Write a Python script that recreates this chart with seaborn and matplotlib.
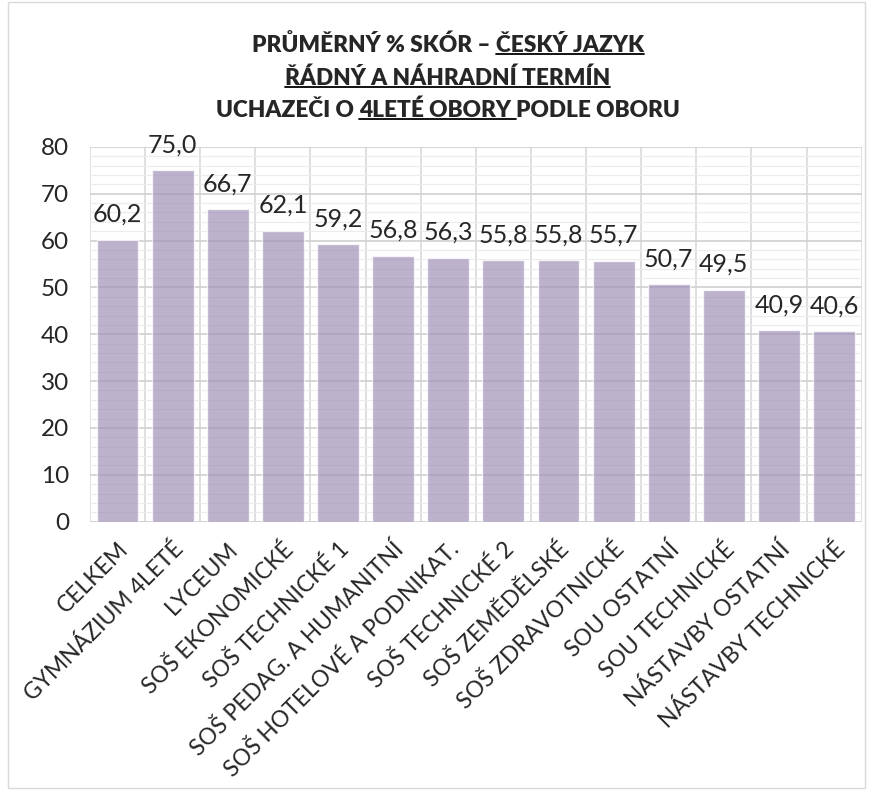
import matplotlib
matplotlib.use("Agg")
import matplotlib.pyplot as plt
from matplotlib.lines import Line2D
from matplotlib.patches import Rectangle
from matplotlib.ticker import MultipleLocator
import seaborn as sns
import pandas as pd

obory = ["CELKEM", "GYMNÁZIUM 4LETÉ", "LYCEUM", "SOŠ EKONOMICKÉ", "SOŠ TECHNICKÉ 1",
         "SOŠ PEDAG. A HUMANITNÍ", "SOŠ HOTELOVÉ A PODNIKAT.", "SOŠ TECHNICKÉ 2",
         "SOŠ ZEMĚDĚLSKÉ", "SOŠ ZDRAVOTNICKÉ", "SOU OSTATNÍ", "SOU TECHNICKÉ",
         "NÁSTAVBY OSTATNÍ", "NÁSTAVBY TECHNICKÉ"]
skore = [60.2, 75.0, 66.7, 62.1, 59.2, 56.8, 56.3, 55.8, 55.8, 55.7, 50.7, 49.5, 40.9, 40.6]

# title pieces: (text, underlined)
title_lines = [
    [("PRŮMĚRNÝ % SKÓR – ", False), ("ČESKÝ JAZYK", True)],
    [("ŘÁDNÝ A NÁHRADNÍ TERMÍN", True)],
    [("UCHAZEČI O ", False), ("4LETÉ OBORY ", True), ("PODLE OBORU", False)],
]

df = pd.DataFrame({"obor": obory, "skore": skore})

sns.set_style("white")
plt.rcParams["font.family"] = ["Lato", "DejaVu Sans"]

fig = plt.figure(figsize=(8.73, 7.94), dpi=100)
ax = fig.add_axes([0.103, 0.343, 0.884, 0.472])

sns.barplot(data=df, x="obor", y="skore", color="#a08ebf", alpha=0.72,
            width=0.76, ax=ax, zorder=3)

ax.set_ylim(0, 80)
ax.set_xlim(-0.5, len(obory) - 0.5)
ax.yaxis.set_major_locator(MultipleLocator(10))
ax.yaxis.set_minor_locator(MultipleLocator(2))
ax.grid(axis="y", which="major", color="#d0d0d0", lw=1.2, zorder=0)
ax.grid(axis="y", which="minor", color="#ececec", lw=0.8, zorder=0)
for i in range(len(obory) + 1):
    ax.axvline(i - 0.5, color="#d9d9d9", lw=1.2, zorder=0)
ax.set_axisbelow(True)
for s in ax.spines.values():
    s.set_visible(False)
ax.axhline(0, color="#d0d0d0", lw=1.2, zorder=1)

ax.set_xlabel("")
ax.set_ylabel("")
ax.tick_params(axis="y", labelsize=17.5, length=0, pad=15, which="both")
ax.tick_params(axis="x", labelsize=16.5, length=0, pad=12)
plt.setp(ax.get_xticklabels(), rotation=45, ha="right", rotation_mode="anchor")

ax.bar_label(ax.containers[0], labels=[f"{v:.1f}".replace(".", ",") for v in skore],
             fontsize=18, padding=10)

# title with underlined parts
fig.canvas.draw()
renderer = fig.canvas.get_renderer()
y_pos = [0.943, 0.902, 0.861]
for parts, yy in zip(title_lines, y_pos):
    texts = [fig.text(0, yy, t, fontsize=16.3, fontweight="heavy", va="center")
             for t, _ in parts]
    widths = [t.get_window_extent(renderer).width for t in texts]
    x = 0.513 * fig.bbox.width - sum(widths) / 2
    for t, w, (_, ul) in zip(texts, widths, parts):
        t.set_x(x / fig.bbox.width)
        if ul:
            bb = t.get_window_extent(renderer)
            yl = (bb.y0 + 2) / fig.bbox.height
            fig.add_artist(Line2D([x / fig.bbox.width, (x + w) / fig.bbox.width],
                                  [yl, yl], transform=fig.transFigure,
                                  color="black", lw=1.3))
        x += w

fig.add_artist(Rectangle((0.009, 0.008), 0.982, 0.99, transform=fig.transFigure,
                         fill=False, edgecolor="#d9d9d9", lw=1))

fig.savefig("out.png", dpi=100)
